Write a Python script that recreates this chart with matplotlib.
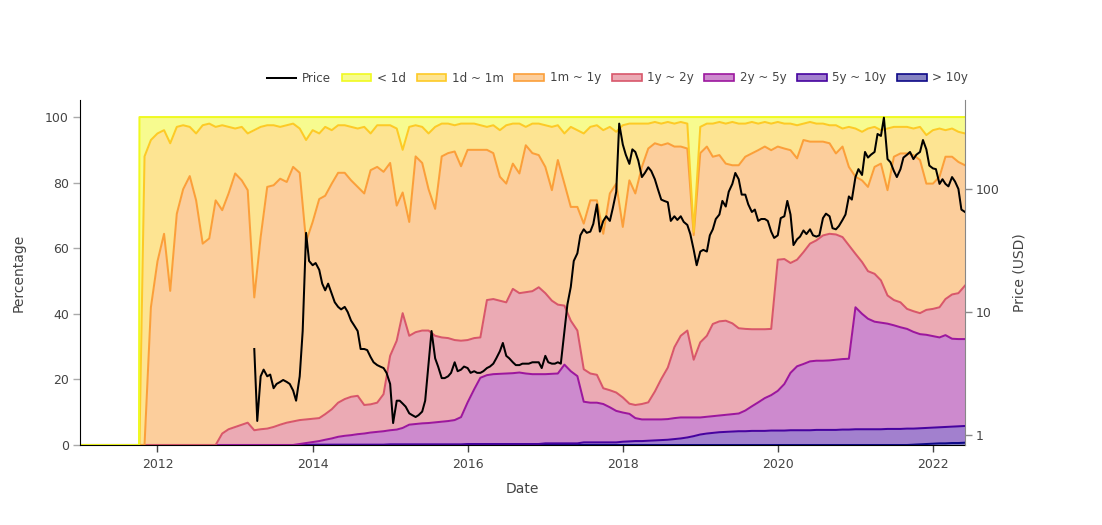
import numpy as np
import pandas as pd
import matplotlib
matplotlib.use("Agg")
import matplotlib.pyplot as plt
from matplotlib.lines import Line2D
from matplotlib.patches import Patch

plt.rcParams['font.family'] = ['DejaVu Sans']

# ---------------- data ----------------
# dates for the stacked supply-age shares (genesis in Oct 2011, then monthly)
stack_dates = pd.to_datetime(['2011-01-01', '2011-10-06', '2011-10-08']).append(
    pd.date_range('2011-11-01', '2022-06-01', freq='MS'))

# cumulative share (%) of supply, top edge of each band (bottom -> top)
top_gt10y = [0, 0, 0] + [0] * 119 + [0.1, 0.2, 0.3, 0.4, 0.5, 0.5, 0.6, 0.6, 0.7]

top_5y10y = [0, 0, 0] + [0] * 26 + [0.1] * 12 + [0.2] * 12 + [0.3] * 12 + [0.5] * 6 + [0.8] * 6 + [
    1.0, 1.1, 1.2, 1.2, 1.3, 1.4, 1.5, 1.6, 1.8, 2.0, 2.3, 2.7, 3.2, 3.5, 3.7, 3.9,
    4.0, 4.1, 4.2, 4.2, 4.3, 4.3, 4.3, 4.4, 4.4, 4.4, 4.5, 4.5, 4.5, 4.5, 4.6, 4.6,
    4.6, 4.6, 4.7, 4.7, 4.8, 4.8, 4.8, 4.8, 4.8, 4.9, 4.9, 4.9, 5.0, 5.0, 5.1, 5.2,
    5.3, 5.4, 5.5, 5.6, 5.7, 5.8]

top_2y5y = [0, 0, 0] + [0] * 24 + [
    0.3, 0.6, 0.9, 1.2, 1.6, 2.0,
    2.5, 2.8, 3.0, 3.3, 3.5, 3.8, 4.0, 4.2, 4.5, 4.7,
    5.2, 6.2, 6.4, 6.6, 6.7, 6.9, 7.1, 7.3, 7.6, 8.5,
    13.0, 17.0, 20.5, 21.3, 21.6, 21.7, 21.8, 21.9, 22.1, 21.8,
    21.6, 21.6, 21.6, 21.7, 21.8, 24.5, 22.5, 21.0, 13.2, 12.9,
    12.9, 12.5, 11.5, 10.4, 9.9, 9.5, 8.2, 7.8, 7.8, 7.8,
    7.8, 7.9, 8.2, 8.4, 8.4, 8.4, 8.4, 8.6, 8.8, 9.0,
    9.2, 9.4, 9.6, 10.5, 11.8, 13.0, 14.3, 15.2, 16.5, 18.6,
    22.0, 24.0, 24.7, 25.5, 25.7, 25.7, 25.8, 26.0, 26.2, 26.3,
    42.0, 40.0, 38.5, 37.6, 37.3, 37.0, 36.5, 35.9, 35.4, 34.5,
    33.8, 33.6, 33.2, 32.8, 33.5, 32.4, 32.3, 32.3]

top_1y2y = [0, 0, 0] + [0] * 12 + [
    3.5, 4.8, 5.5, 6.2, 6.8, 4.5, 4.8, 5.0,
    5.5, 6.2, 6.8, 7.2, 7.6, 7.8, 8.0, 8.2, 9.4, 10.9,
    12.9, 14.0, 14.7, 15.0, 12.2, 12.4, 12.9, 15.5, 27.2, 31.8,
    40.2, 33.3, 34.4, 34.9, 34.9, 33.3, 32.8, 32.6, 32.0, 31.8,
    32.0, 32.6, 32.8, 44.2, 44.5, 44.0, 43.5, 47.6, 46.3, 46.6,
    46.9, 48.1, 46.3, 44.0, 42.8, 42.5, 37.9, 34.9, 23.1, 21.8,
    21.4, 17.3, 16.7, 16.0, 14.5, 12.6, 12.2, 12.5, 13.0, 16.3,
    20.1, 23.6, 29.8, 33.3, 34.9, 26.0, 31.3, 33.3, 36.9, 37.7,
    37.9, 37.1, 35.6, 35.4, 35.3, 35.3, 35.3, 35.4, 56.5, 56.7,
    55.5, 56.5, 58.8, 61.4, 62.4, 63.9, 64.4, 64.2, 63.4, 60.9,
    58.3, 55.8, 53.0, 52.2, 50.2, 45.6, 44.2, 43.5, 41.5, 40.8,
    40.2, 41.2, 41.5, 42.0, 44.5, 45.9, 46.3, 48.6]

top_1m1y = [0, 0, 0] + [
    0.0, 42.0, 56.0, 64.4, 47.0, 70.5, 78.0, 82.0, 74.6, 61.4,
    63.0, 74.6, 71.6, 76.7, 82.8, 80.7, 77.7, 45.0, 63.4, 78.7,
    79.2, 81.2, 80.2, 84.8, 83.0, 62.0, 68.0, 75.0, 76.0, 79.7,
    83.0, 83.0, 80.7, 78.7, 76.7, 83.8, 84.8, 83.3, 86.0, 73.0,
    77.0, 68.0, 88.0, 86.0, 78.0, 72.0, 88.0, 89.0, 89.5, 85.0,
    90.0, 90.0, 90.0, 90.0, 89.0, 81.8, 79.7, 85.8, 82.8, 91.4,
    89.0, 88.4, 84.8, 77.7, 86.9, 79.7, 72.6, 72.6, 67.5, 74.6,
    74.6, 64.4, 76.7, 79.7, 66.5, 80.7, 76.7, 84.8, 90.4, 92.0,
    91.4, 92.0, 91.0, 91.0, 90.4, 64.0, 89.0, 91.0, 87.9, 88.4,
    85.8, 85.3, 85.3, 87.9, 88.9, 89.9, 91.0, 89.9, 91.0, 90.4,
    89.9, 87.4, 93.0, 92.5, 92.5, 92.5, 92.0, 88.9, 91.0, 84.8,
    81.8, 80.7, 78.7, 84.8, 85.8, 77.7, 87.9, 88.9, 88.9, 88.4,
    86.9, 79.7, 79.7, 81.8, 87.9, 87.9, 86.3, 85.3]

top_1d1m = [0, 0, 0] + [
    88.0, 93.0, 95.0, 96.0, 92.0, 97.0, 97.5, 97.0, 95.0, 97.5,
    98.0, 97.0, 97.5, 97.0, 96.5, 97.0, 95.0, 96.0, 97.0, 97.5,
    97.5, 97.0, 97.5, 98.0, 96.5, 93.0, 96.0, 95.0, 97.0, 96.0,
    97.5, 97.5, 97.0, 96.5, 97.0, 95.0, 97.5, 97.5, 97.5, 96.5,
    90.0, 97.0, 97.5, 97.0, 95.0, 97.0, 98.0, 98.0, 97.5, 98.0,
    98.0, 98.0, 97.5, 97.0, 97.5, 96.0, 97.5, 98.0, 98.0, 97.0,
    98.0, 98.0, 97.5, 97.0, 97.5, 95.0, 97.0, 96.0, 95.0, 97.0,
    97.5, 96.0, 97.0, 95.5, 97.5, 98.0, 98.0, 98.0, 98.0, 98.5,
    98.0, 98.5, 98.0, 98.5, 98.0, 65.0, 97.0, 98.0, 98.0, 98.5,
    98.0, 98.5, 98.0, 98.0, 98.5, 98.0, 98.5, 98.0, 98.5, 98.0,
    98.0, 97.5, 98.0, 98.5, 98.0, 98.0, 97.5, 97.5, 96.5, 97.0,
    96.5, 95.5, 96.5, 97.0, 96.0, 96.5, 97.0, 97.0, 97.0, 96.5,
    97.0, 94.5, 96.0, 96.5, 96.0, 96.5, 95.5, 95.0]

top_lt1d = [0, 0, 100] + [100] * 128

band_labels = ['> 10y', '5y ~ 10y', '2y ~ 5y', '1y ~ 2y', '1m ~ 1y', '1d ~ 1m', '< 1d']
band_colors = ['#0d0887', '#46039f', '#9c179e', '#d8576b', '#fb9f3a', '#fdca26', '#f0f921']

# price (USD), semi-monthly
price_dates = pd.date_range('2013-04-01', '2022-06-01', freq='SMS')
price = [
    # 2013
    5.0, 1.3, 3.0, 3.4, 3.0, 3.1, 2.4, 2.6, 2.7, 2.8, 2.7, 2.6, 2.3, 1.9, 3.0, 7.0, 44, 26,
    # 2014
    24, 25, 22, 17, 15, 17, 14, 12, 11, 10.5, 11, 10, 8.5, 7.8, 7.0, 5.0, 5.0, 4.9, 4.3, 3.9, 3.7, 3.6, 3.5, 3.2,
    # 2015
    2.6, 1.25, 1.9, 1.9, 1.8, 1.7, 1.5, 1.45, 1.4, 1.45, 1.55, 1.9, 3.8, 7.0, 4.2, 3.6, 2.9, 2.9, 3.0, 3.2, 3.9, 3.3, 3.4, 3.6,
    # 2016
    3.5, 3.2, 3.3, 3.2, 3.2, 3.3, 3.5, 3.6, 3.8, 4.2, 4.8, 5.6, 4.4, 4.2, 3.9, 3.7, 3.7, 3.8, 3.8, 3.8, 3.9, 3.9, 3.9, 3.5,
    # 2017
    4.4, 3.9, 3.8, 3.8, 3.9, 3.8, 7.0, 11.5, 16, 26, 30, 42, 47, 44, 45, 52, 75, 45, 55, 60, 55, 70, 95, 340,
    # 2018
    230, 190, 160, 210, 200, 170, 125, 135, 150, 140, 120, 100, 82, 80, 78, 55, 60, 56, 60, 54, 51, 43, 32, 24,
    # 2019
    31, 32, 31, 42, 47, 57, 62, 80, 72, 95, 110, 135, 120, 90, 90, 75, 65, 68, 55, 57, 57, 55, 45, 40,
    # 2020
    42, 58, 60, 80, 62, 35, 39, 41, 46, 43, 47, 42, 41, 42, 58, 63, 60, 48, 47, 50, 56, 62, 87, 82,
    # 2021
    125, 145, 130, 200, 180, 190, 200, 280, 270, 380, 175, 165, 140, 125, 145, 180, 190, 200, 175, 190, 200, 250, 210, 155,
    # 2022
    147, 145, 110, 120, 110, 105, 125, 115, 100, 68, 65,
]

# ---------------- figure ----------------
W, H = 1102, 525
fig = plt.figure(figsize=(W / 100, H / 100), dpi=100)
ax = fig.add_axes([80 / W, 1 - 445 / H, (965 - 80) / W, (445 - 100) / H])

tops = [np.asarray(a, dtype=float) for a in
        [top_gt10y, top_5y10y, top_2y5y, top_1y2y, top_1m1y, top_1d1m, top_lt1d]]
lower = np.zeros(len(stack_dates))
for t, c in zip(tops, band_colors):
    ax.fill_between(stack_dates, lower, t, color=c, alpha=0.5, lw=0, zorder=1)
    lower = t
for t, c in zip(tops, band_colors):
    ax.plot(stack_dates, t, color=c, lw=1.45, zorder=2, solid_joinstyle='round')

ax.set_xlim(pd.Timestamp('2011-01-01'), pd.Timestamp('2022-06-01'))
ax.set_ylim(0, 105.2)
ax.set_yticks([0, 20, 40, 60, 80, 100])
ax.set_xticks([pd.Timestamp(f'{y}-01-01') for y in range(2012, 2023, 2)])
ax.set_xticklabels([str(y) for y in range(2012, 2023, 2)])

ax2 = ax.twinx()
ax2.plot(price_dates, price, color='black', lw=1.45, zorder=3)
ax2.set_yscale('log')
ax2.set_ylim(0.829, 529)
ax2.set_yticks([1, 10, 100])
ax2.set_yticklabels(['1', '10', '100'])
ax2.yaxis.set_minor_locator(matplotlib.ticker.NullLocator())

txt = '#444444'
for a in (ax, ax2):
    a.spines['top'].set_visible(False)
    a.tick_params(colors=txt, labelsize=9, length=5, width=1)
ax.spines['right'].set_visible(False)
ax.spines['left'].set_color('black')
ax.spines['bottom'].set_color('black')
ax2.spines['left'].set_visible(False)
ax2.spines['bottom'].set_visible(False)
ax2.spines['right'].set_color('#888888')
ax.tick_params(axis='x', color='#444444', pad=4)
ax.tick_params(axis='y', color='#aaaaaa', pad=3)
ax2.tick_params(axis='y', color='#888888', pad=3)

ax.set_xlabel('Date', fontsize=10, color=txt, labelpad=8)
ax.set_ylabel('Percentage', fontsize=10, color=txt, labelpad=14)
ax2.set_ylabel('Price (USD)', fontsize=10, color=txt, labelpad=9)

# legend
handles = [Line2D([0], [0], color='black', lw=1.45)]
labels = ['Price']
for lab, c in zip(band_labels[::-1], band_colors[::-1]):
    handles.append(Patch(facecolor=matplotlib.colors.to_rgba(c, 0.5), edgecolor=c, lw=1.2))
    labels.append(lab)
leg = fig.legend(handles, labels, ncol=8, loc='center right',
                 bbox_to_anchor=(973 / W, 1 - 78 / H), frameon=False,
                 fontsize=8.6, handlelength=2.5, handleheight=0.55,
                 handletextpad=0.45, columnspacing=0.9, borderaxespad=0)
for t in leg.get_texts():
    t.set_color(txt)

fig.savefig('out.png', dpi=100)
